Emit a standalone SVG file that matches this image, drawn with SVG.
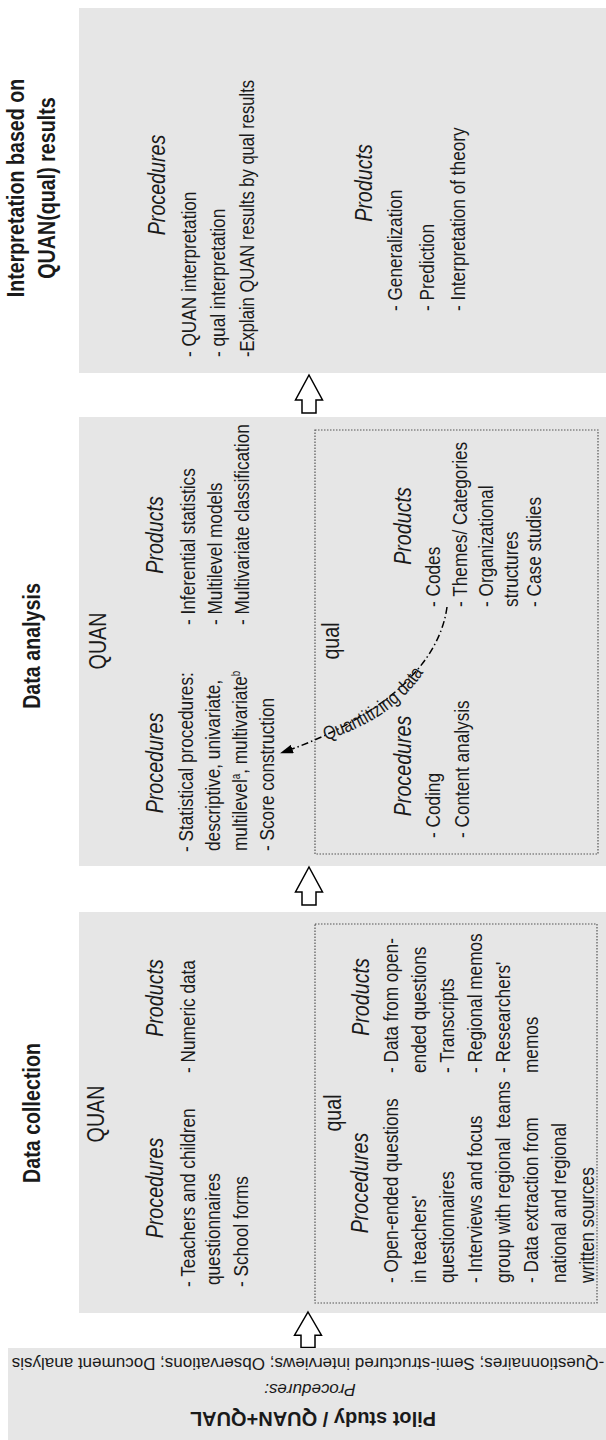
<svg xmlns="http://www.w3.org/2000/svg" width="606" height="1440" viewBox="0 0 606 1440">
  <style>
    .box { fill: #e6e6e6; }
    .dot { fill: none; stroke: #555; stroke-width: 1.2; stroke-dasharray: 1.5 1.5; }
    text { fill: #1a1a1a; font-family: "Liberation Sans", Arial, sans-serif; }
    .t { font-size: 24px; font-weight: bold; text-anchor: middle; }
    .s { font-size: 24px; text-anchor: middle; }
    .h { font-size: 24px; font-style: italic; text-anchor: middle; }
    .l { font-size: 21px; }
    .p { font-size: 17px; text-anchor: middle; }
    .pt { font-size: 20px; font-weight: bold; text-anchor: middle; }
    .blk { fill: #fff; stroke: #000; stroke-width: 1.5; stroke-linejoin: miter; }
    .flow { fill: none; stroke: #000; stroke-width: 1.5; stroke-dasharray: 7 3 1.5 3; }
    .ql { font-size: 19px; }
  </style>
  <defs>
    <path id="blockArrow" d="M0,0 L13.5,25 L7,25 L7,38 L-7,38 L-7,25 L-13.5,25 Z"/>
    <marker id="ah" markerWidth="13" markerHeight="9" refX="12" refY="4.5" orient="auto" markerUnits="userSpaceOnUse">
      <path d="M0,0 L13,4.5 L0,9 Z" fill="#000"/>
    </marker>
    <path id="qpath" d="M318,743 C385,722 426,690 444,626"/>
  </defs>

  <!-- Interpretation stage; vertical text uses a narrowed face (rotate + horizontal squeeze) -->
  <g id="interpretation">
    <rect class="box" x="79" y="8" width="527" height="365"/>
    <g transform="rotate(-90) scale(0.82,1)">
      <text class="t" x="-229.3" y="24">Interpretation based on</text>
      <text class="t" x="-229.3" y="55">QUAN(qual) results</text>
      <text class="h" x="-225.6" y="165">Procedures</text>
      <text class="l" x="-435.4" y="196">- QUAN interpretation</text>
      <text class="l" x="-435.4" y="225">- qual interpretation</text>
      <text class="l" x="-435.4" y="254" textLength="338" lengthAdjust="spacingAndGlyphs">-Explain QUAN results by qual results</text>
      <text class="h" x="-223.2" y="372">Products</text>
      <text class="l" x="-379.3" y="402">- Generalization</text>
      <text class="l" x="-379.3" y="434">- Prediction</text>
      <text class="l" x="-379.3" y="465">- Interpretation of theory</text>
    </g>
  </g>

  <!-- Data analysis stage -->
  <g id="analysis">
    <rect class="box" x="79" y="417" width="527" height="449"/>
    <rect class="dot" x="315" y="430" width="283" height="424"/>
    <g transform="rotate(-90) scale(0.82,1)">
      <text class="t" x="-787.8" y="40">Data analysis</text>
      <text class="s" x="-781.7" y="106">QUAN</text>
      <text class="h" x="-930.5" y="163">Procedures</text>
      <text class="l" x="-1039" y="193">- Statistical procedures:</text>
      <text class="l" x="-1037.8" y="220">descriptive, univariate,</text>
      <text class="l" x="-1037.8" y="247">multilevel<tspan font-size="12" dy="-7">a</tspan><tspan dy="7">, multivariate</tspan><tspan font-size="12" dy="-7">b</tspan></text>
      <text class="l" x="-1037.8" y="274">- Score construction</text>
      <text class="h" x="-652.4" y="163">Products</text>
      <text class="l" x="-762.2" y="195">- Inferential statistics</text>
      <text class="l" x="-762.2" y="222">- Multilevel models</text>
      <text class="l" x="-762.2" y="249">- Multivariate classification</text>
      <text class="s" x="-781.7" y="339">qual</text>
      <text class="h" x="-934.1" y="411">Procedures</text>
      <text class="l" x="-1022" y="440">- Coding</text>
      <text class="l" x="-1022" y="469">- Content analysis</text>
      <text class="h" x="-641.5" y="411">Products</text>
      <text class="l" x="-740.2" y="440">- Codes</text>
      <text class="l" x="-740.2" y="467">- Themes/ Categories</text>
      <text class="l" x="-740.2" y="493">- Organizational</text>
      <text class="l" x="-740.2" y="518">structures</text>
      <text class="l" x="-740.2" y="541">- Case studies</text>
    </g>
  </g>

  <!-- Data collection stage -->
  <g id="collection">
    <rect class="box" x="79" y="912" width="527" height="401"/>
    <rect class="dot" x="315" y="924" width="282" height="379"/>
    <g transform="rotate(-90) scale(0.82,1)">
      <text class="t" x="-1357.3" y="40">Data collection</text>
      <text class="s" x="-1358.5" y="104">QUAN</text>
      <text class="h" x="-1448.8" y="163">Procedures</text>
      <text class="l" x="-1569.5" y="195">- Teachers and children</text>
      <text class="l" x="-1567.1" y="220">questionnaires</text>
      <text class="l" x="-1569.5" y="248">- School forms</text>
      <text class="h" x="-1217.1" y="163">Products</text>
      <text class="l" x="-1308.5" y="195">- Numeric data</text>
      <text class="s" x="-1357.3" y="341">qual</text>
      <text class="h" x="-1442.7" y="368">Procedures</text>
      <text class="l" x="-1564.6" y="398">- Open-ended questions</text>
      <text class="l" x="-1564.6" y="426">in teachers'</text>
      <text class="l" x="-1564.6" y="454">questionnaires</text>
      <text class="l" x="-1564.6" y="482">- Interviews and focus</text>
      <text class="l" x="-1564.6" y="510">group with regional&#160; teams</text>
      <text class="l" x="-1564.6" y="538">- Data extraction from</text>
      <text class="l" x="-1564.6" y="566">national and regional</text>
      <text class="l" x="-1564.6" y="594">written sources</text>
      <text class="h" x="-1215.9" y="369">Products</text>
      <text class="l" x="-1308.5" y="398">- Data from open-</text>
      <text class="l" x="-1308.5" y="426">ended questions</text>
      <text class="l" x="-1308.5" y="454">- Transcripts</text>
      <text class="l" x="-1308.5" y="482">- Regional memos</text>
      <text class="l" x="-1308.5" y="510">- Researchers'</text>
      <text class="l" x="-1308.5" y="538">memos</text>
    </g>
  </g>

  <!-- Pilot study stage (printed upside down) -->
  <g id="pilot">
    <rect class="box" x="8" y="1348" width="598" height="92"/>
    <text class="pt" x="313" y="1412" transform="rotate(180 313 1412)">Pilot study / QUAN+QUAL</text>
    <text class="p" x="310" y="1384" font-style="italic" transform="rotate(180 310 1384)">Procedures:</text>
    <text class="p" x="308" y="1358" transform="rotate(180 308 1358)">-Questionnaires; Semi-structured interviews; Observations; Document analysis</text>
  </g>

  <!-- Connectors -->
  <g id="connectors">
    <use href="#blockArrow" class="blk" transform="translate(309,375)"/>
    <use href="#blockArrow" class="blk" transform="translate(309,867)"/>
    <use href="#blockArrow" class="blk" transform="translate(308,1312) scale(1,0.93)"/>
    <path class="flow" d="M447,607 C440,660 390,715 281,753" marker-end="url(#ah)"/>
    <text class="ql"><textPath href="#qpath" startOffset="8" textLength="122" lengthAdjust="spacingAndGlyphs">Quantitizing data</textPath></text>
  </g>
</svg>
